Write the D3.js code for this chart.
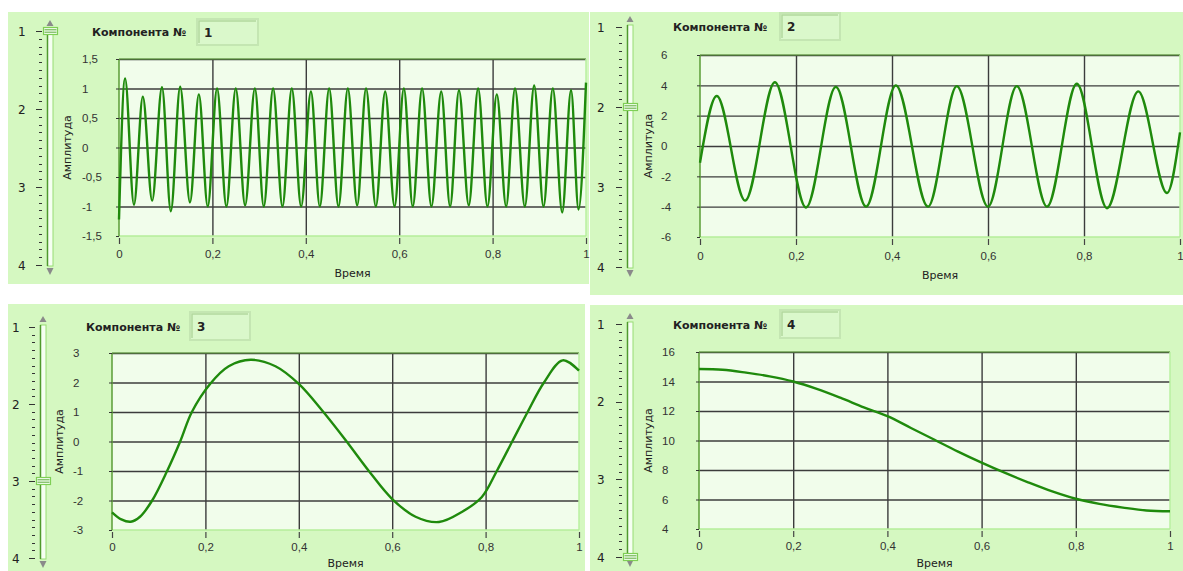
<!DOCTYPE html>
<html>
<head>
<meta charset="utf-8">
<script src="https://cdn.jsdelivr.net/npm/d3@7"></script>
<style>
body { margin: 0; background: #fff; }
svg { display: block; font-family: "DejaVu Sans", Verdana, sans-serif; }
</style>
</head>
<body>
<svg id="chart" width="1183" height="571"></svg>
<script>
// --- data ---
const timeTicks = [0, 0.2, 0.4, 0.6, 0.8, 1];
const sliderValues = [1, 2, 3, 4];
const componentNo = [1, 2, 3, 4];

const comp1Time = [0, 0.013, 0.032, 0.051, 0.071, 0.092, 0.111, 0.131, 0.152, 0.171, 0.190,
  0.210, 0.230, 0.250, 0.270, 0.291, 0.310, 0.330, 0.350, 0.370, 0.390, 0.411, 0.430,
  0.450, 0.470, 0.490, 0.510, 0.529, 0.550, 0.570, 0.590, 0.610, 0.629, 0.649, 0.669,
  0.690, 0.709, 0.728, 0.749, 0.769, 0.789, 0.809, 0.829, 0.848, 0.869, 0.889, 0.909,
  0.929, 0.949, 0.968, 0.984, 1.0];
const comp1Amp = [-1.22, 1.17, -0.97, 0.86, -0.9, 1.02, -1.08, 1.03, -0.93, 0.9, -1.0,
  1.0, -1.0, 1.0, -0.98, 1.0, -1.0, 1.0, -1.0, 1.0, -1.0, 0.95, -1.0,
  1.0, -1.0, 1.0, -0.98, 1.0, -1.0, 0.95, -1.0, 1.0, -1.0, 1.0, -1.0,
  0.95, -1.0, 0.97, -0.98, 1.0, -1.0, 0.9, -1.0, 1.0, -1.0, 1.05, -1.0,
  1.0, -1.1, 0.97, -1.05, 1.1];
const comp1Ticks = [-1.5, -1, -0.5, 0, 0.5, 1, 1.5];

const comp2Time = [0, 0.035, 0.094, 0.156, 0.221, 0.283, 0.346, 0.408, 0.475, 0.535, 0.6,
  0.66, 0.723, 0.785, 0.848, 0.913, 0.973, 1.0];
const comp2Amp = [-1.1, 3.3, -3.6, 4.2, -4.05, 3.9, -4.0, 4.0, -4.0, 3.95, -4.0,
  3.95, -4.0, 4.1, -4.1, 3.6, -3.1, 0.9];
const comp2Ticks = [-6, -4, -2, 0, 2, 4, 6];

const comp3Time = [0, 0.02, 0.04, 0.06, 0.086, 0.118, 0.146, 0.171, 0.21, 0.25, 0.297, 0.35,
  0.4, 0.45, 0.5, 0.55, 0.6, 0.65, 0.7, 0.75, 0.792, 0.824, 0.857, 0.89, 0.925, 0.965, 1.0];
const comp3Amp = [-2.4, -2.64, -2.72, -2.55, -2.0, -1.0, 0, 1.0, 1.95, 2.55, 2.77, 2.55,
  1.95, 1.05, 0.05, -1.0, -1.95, -2.55, -2.73, -2.38, -1.88, -1.0, 0, 1.0, 2.0, 2.75, 2.4];
const comp3Ticks = [-3, -2, -1, 0, 1, 2, 3];

const comp4Time = [0, 0.05, 0.1, 0.15, 0.2, 0.25, 0.3, 0.35, 0.4, 0.45, 0.5,
  0.55, 0.6, 0.65, 0.7, 0.75, 0.8, 0.85, 0.9, 0.95, 1];
const comp4Amp = [14.85, 14.8, 14.6, 14.35, 14.0, 13.5, 12.9, 12.25, 11.65, 10.85, 10.05,
  9.25, 8.5, 7.8, 7.15, 6.55, 6.05, 5.7, 5.45, 5.25, 5.2];
const comp4Ticks = [4, 6, 8, 10, 12, 14, 16];

// --- layout of the four panels ---
const panels = [
  { t: comp1Time, v: comp1Amp, ticks: comp1Ticks, num: componentNo[0], curve: d3.curveMonotoneX,
    bg: [8, 12, 581, 272], slider: { numX: 18, trackX: 47, top: 31, bottom: 265 },
    title: [92, 36], box: [197, 19, 61, 26], plot: [119, 586, 59, 236],
    yLabelX: 82, ampX: 71, timeY: 277, xLabelY: 258 },
  { t: comp2Time, v: comp2Amp, ticks: comp2Ticks, num: componentNo[1], curve: d3.curveMonotoneX,
    bg: [590, 12, 593, 283], slider: { numX: 597, trackX: 627, top: 27, bottom: 267 },
    title: [673, 31], box: [780, 13, 60, 27], plot: [700, 1180, 55, 237],
    yLabelX: 661, ampX: 652, timeY: 279, xLabelY: 260 },
  { t: comp3Time, v: comp3Amp, ticks: comp3Ticks, num: componentNo[2], curve: d3.curveCatmullRom,
    bg: [8, 304, 577, 267], slider: { numX: 12, trackX: 40, top: 327, bottom: 558 },
    title: [86, 331], box: [190, 312, 60, 28], plot: [112, 579, 353, 530],
    yLabelX: 73, ampX: 63, timeY: 567, xLabelY: 551 },
  { t: comp4Time, v: comp4Amp, ticks: comp4Ticks, num: componentNo[3], curve: d3.curveCatmullRom,
    bg: [590, 305, 593, 266], slider: { numX: 597, trackX: 627, top: 324, bottom: 557 },
    title: [673, 329], box: [780, 310, 60, 28], plot: [699, 1170, 352, 529],
    yLabelX: 662, ampX: 652, timeY: 567, xLabelY: 550 }
];

const svg = d3.select("#chart");
const fmt = d => String(d).replace(".", ",");

function drawSlider(g, s, num) {
    const sy = d3.scaleLinear().domain([1, 4]).range([s.top, s.bottom]);
    const minor = d3.range(1, 4.01, 0.1);
    g.selectAll(".minor").data(minor).enter().append("line")
        .attr("x1", s.trackX - 8).attr("x2", s.trackX - 5)
        .attr("y1", d => Math.round(sy(d)) + 0.5).attr("y2", d => Math.round(sy(d)) + 0.5)
        .attr("stroke", "#333").attr("stroke-width", 1);
    g.selectAll(".major").data(sliderValues).enter().append("line")
        .attr("x1", s.trackX - 11).attr("x2", s.trackX - 5)
        .attr("y1", d => Math.round(sy(d)) + 0.5).attr("y2", d => Math.round(sy(d)) + 0.5)
        .attr("stroke", "#333").attr("stroke-width", 1);
    g.selectAll(".snum").data(sliderValues).enter().append("text")
        .attr("x", s.numX).attr("y", d => sy(d) + 4.5)
        .attr("font-size", 12).attr("fill", "#222").text(d => d);
    // track
    g.append("rect").attr("x", s.trackX + 0.5).attr("y", s.top - 2)
        .attr("width", 5.5).attr("height", s.bottom - s.top + 3)
        .attr("fill", "#f6fff2").attr("stroke", "#98dc74");
    g.append("line").attr("x1", s.trackX + 0.5).attr("x2", s.trackX + 0.5)
        .attr("y1", s.top - 2).attr("y2", s.bottom + 1).attr("stroke", "#4f9a2c").attr("stroke-width", 1.5);
    const cx = s.trackX + 3;
    g.append("path").attr("d", `M${cx - 3.5},${s.top - 5}L${cx + 3.5},${s.top - 5}L${cx},${s.top - 11}Z`)
        .attr("fill", "#8a8a8a");
    g.append("path").attr("d", `M${cx - 3.5},${s.bottom + 3}L${cx + 3.5},${s.bottom + 3}L${cx},${s.bottom + 10}Z`)
        .attr("fill", "#8a8a8a");
    // thumb
    const ty = sy(num);
    g.append("rect").attr("x", s.trackX - 3.5).attr("y", ty - 3.5).attr("width", 14).attr("height", 7)
        .attr("fill", "#f2fff0").attr("stroke", "#7fcf55").attr("stroke-width", 1.2);
    [-1.2, 1.2].forEach(o => g.append("line")
        .attr("x1", s.trackX - 2.5).attr("x2", s.trackX + 9.5)
        .attr("y1", ty + o).attr("y2", ty + o).attr("stroke", "#5fa83a").attr("stroke-width", 1));
}

function drawPanel(p) {
    const g = svg.append("g");
    g.append("rect").attr("x", p.bg[0]).attr("y", p.bg[1]).attr("width", p.bg[2]).attr("height", p.bg[3])
        .attr("fill", "#d5f8c1");

    drawSlider(g, p.slider, p.num);

    // title and number box
    g.append("text").attr("x", p.title[0]).attr("y", p.title[1])
        .attr("font-size", 11).attr("font-weight", "bold").attr("fill", "#222").text("Компонента №");
    const [bx, by, bw, bh] = p.box;
    g.append("rect").attr("x", bx).attr("y", by).attr("width", bw).attr("height", bh)
        .attr("fill", "#daf8cb").attr("stroke", "#c4e6b2").attr("stroke-width", 2);
    g.append("path").attr("d", `M${bx + 2},${by + bh - 2}L${bx + 2},${by + 2}L${bx + bw - 2},${by + 2}`)
        .attr("fill", "none").attr("stroke", "#b3d79f").attr("stroke-width", 1.5);
    g.append("text").attr("x", bx + 7).attr("y", by + bh / 2 + 4.5)
        .attr("font-size", 12).attr("font-weight", "bold").attr("fill", "#222").text(p.num);

    const [x0, x1, y0, y1] = p.plot;
    const x = d3.scaleLinear().domain([0, 1]).range([x0, x1]);
    const y = d3.scaleLinear().domain(d3.extent(p.ticks)).range([y1, y0]);

    g.append("rect").attr("x", x0).attr("y", y0).attr("width", x1 - x0).attr("height", y1 - y0)
        .attr("fill", "#f1fdeb");

    // grid
    g.append("g").attr("transform", `translate(${x0},0)`)
        .call(d3.axisLeft(y).tickValues(p.ticks.slice(1)).tickSize(-(x1 - x0)).tickFormat(""))
        .call(a => a.select(".domain").remove())
        .call(a => a.selectAll("line").attr("stroke", "#3c3c3c").attr("stroke-width", 1.4));
    g.append("g").attr("transform", `translate(0,${y1})`)
        .call(d3.axisBottom(x).tickValues(timeTicks.slice(1, -1)).tickSize(-(y1 - y0)).tickFormat(""))
        .call(a => a.select(".domain").remove())
        .call(a => a.selectAll("line").attr("stroke", "#3c3c3c").attr("stroke-width", 1.4));

    // frame
    g.append("line").attr("x1", x0).attr("x2", x1).attr("y1", y0).attr("y2", y0)
        .attr("stroke", "#5e9f3b").attr("stroke-width", 1.2);
    g.append("line").attr("x1", x1).attr("x2", x1).attr("y1", y0).attr("y2", y1)
        .attr("stroke", "#b9f0a0").attr("stroke-width", 1.5);
    g.append("line").attr("x1", x0).attr("x2", x1).attr("y1", y1).attr("y2", y1)
        .attr("stroke", "#b5ee9a").attr("stroke-width", 1.5);
    g.append("line").attr("x1", x0).attr("x2", x0).attr("y1", y0).attr("y2", y1)
        .attr("stroke", "#5a9c36").attr("stroke-width", 1.5);

    // y axis labels
    g.append("g").attr("transform", `translate(${x0},0)`)
        .call(d3.axisLeft(y).tickValues(p.ticks).tickSize(3).tickPadding(0).tickFormat(fmt))
        .call(a => a.select(".domain").remove())
        .call(a => a.selectAll("line").attr("stroke", "#333"))
        .call(a => a.selectAll("text").attr("text-anchor", "start").attr("x", p.yLabelX - x0)
            .attr("font-size", 11.5).attr("fill", "#333").attr("font-family", null));

    // x axis labels
    g.append("g").attr("transform", `translate(0,${y1 + 2})`)
        .call(d3.axisBottom(x).tickValues(timeTicks).tickSize(6).tickPadding(0).tickFormat(fmt))
        .call(a => a.select(".domain").remove())
        .call(a => a.selectAll("line").attr("stroke", "#444").attr("stroke-width", 1.2))
        .call(a => a.selectAll("text").attr("y", null).attr("dy", null)
            .attr("transform", `translate(0,${p.xLabelY - y1 - 2})`)
            .attr("font-size", 11.5).attr("fill", "#333").attr("font-family", null));

    g.append("text").attr("x", (x0 + x1) / 2).attr("y", p.timeY)
        .attr("text-anchor", "middle").attr("font-size", 11).attr("fill", "#222").text("Время");
    g.append("text").attr("transform", `translate(${p.ampX},${(y0 + y1) / 2}) rotate(-90)`)
        .attr("text-anchor", "middle").attr("font-size", 11).attr("fill", "#222").text("Амплитуда");

    // curve
    const pts = p.t.map((t, i) => [t, p.v[i]]);
    const line = d3.line().x(d => x(d[0])).y(d => y(d[1])).curve(p.curve);
    g.append("path").datum(pts).attr("d", line)
        .attr("fill", "none").attr("stroke", "#1f8a0c").attr("stroke-width", 2.4)
        .attr("stroke-linejoin", "round");
}

panels.forEach(drawPanel);
</script>
</body>
</html>
